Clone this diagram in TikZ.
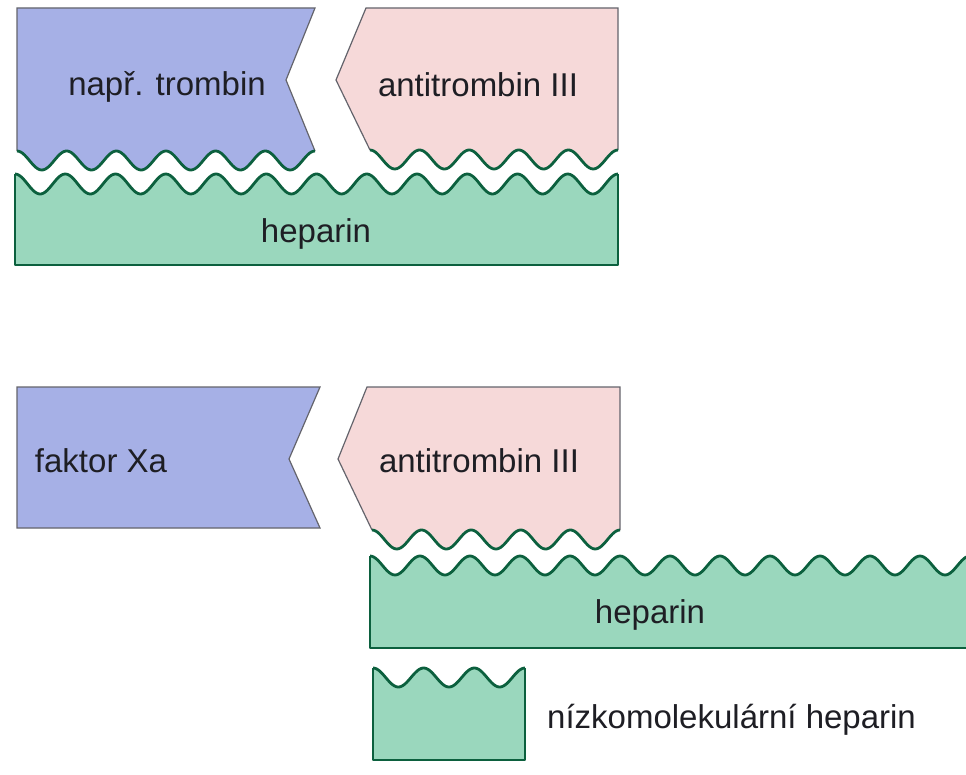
\documentclass[tikz,border=0pt]{standalone}
\usepackage{fontspec}
\setmainfont{Liberation Sans}
\definecolor{protblue}{RGB}{166,176,230}
\definecolor{protpink}{RGB}{246,217,217}
\definecolor{hepgreen}{RGB}{154,215,189}
\definecolor{wavegreen}{RGB}{12,96,62}
\definecolor{edgegray}{RGB}{100,100,108}
\definecolor{txt}{RGB}{30,30,36}
\tikzset{
  lbl/.style={font=\fontsize{33}{37}\selectfont, text=txt, inner sep=0pt, anchor=base},
  grayedge/.style={draw=edgegray, line width=1.2pt, line join=miter},
  greenedge/.style={draw=wavegreen, line width=2.8pt, line join=round},
}
\begin{document}
\begin{tikzpicture}[x=1pt, y=-1pt]
\clip (0,0) rectangle (966,775);
\fill[white] (0,0) rectangle (966,775);

% ---------- top panel ----------
% thrombin (blue)
\fill[protblue] (17,8) -- (315,8) -- (286,80) -- (315,151)
  -- plot[domain=315:17, samples=160] (\x, {160.5-9.5*cos((\x-17)*7.24827)}) -- cycle;
\draw[grayedge] (17,151) -- (17,8) -- (315,8) -- (286,80) -- (315,151);
\draw[greenedge] plot[domain=17:315, samples=160] (\x, {160.5-9.5*cos((\x-17)*7.24827)});

% antithrombin III (pink)
\fill[protpink] (366,8) -- (618,8) -- (618,150)
  -- plot[domain=618:370, samples=140] (\x, {159.5-9.5*cos((\x-370)*7.25806)})
  -- (336,80) -- cycle;
\draw[grayedge] (370,150) -- (336,80) -- (366,8) -- (618,8) -- (618,150);
\draw[greenedge] plot[domain=370:618, samples=140] (\x, {159.5-9.5*cos((\x-370)*7.25806)});

% heparin (green)
\fill[hepgreen] (15,265) -- (15,174)
  -- plot[domain=15:618, samples=300] (\x, {184-10*cos((\x-15)*7.16418)})
  -- (618,265) -- cycle;
\draw[greenedge] (15,174) -- (15,265) -- (618,265) -- (618,174);
\draw[greenedge] plot[domain=15:618, samples=300] (\x, {184-10*cos((\x-15)*7.16418)});

\node[lbl] (trombin) at (167,96) {např. trombin};
\node[lbl] (at1) at (478,97) {antitrombin III};
\node[lbl] (hep1) at (316,243) {heparin};

% ---------- bottom panel ----------
% factor Xa (blue)
\fill[protblue] (17,387) -- (320,387) -- (289,459) -- (320,528) -- (17,528) -- cycle;
\draw[grayedge] (17,387) -- (320,387) -- (289,459) -- (320,528) -- (17,528) -- cycle;

% antithrombin III (pink)
\fill[protpink] (367,387) -- (620,387) -- (620,530)
  -- plot[domain=620:372, samples=140] (\x, {539.5-9.5*cos((\x-372)*7.25806)})
  -- (338,459) -- cycle;
\draw[grayedge] (372,530) -- (338,459) -- (367,387) -- (620,387) -- (620,530);
\draw[greenedge] plot[domain=372:620, samples=140] (\x, {539.5-9.5*cos((\x-372)*7.25806)});

% heparin (green, runs off the right edge)
\fill[hepgreen] (370,648) -- (370,556)
  -- plot[domain=370:975, samples=320] (\x, {565.5-9.5*cos((\x-370)*7.2)})
  -- (975,648) -- cycle;
\draw[greenedge] (370,556) -- (370,648) -- (975,648);
\draw[greenedge] plot[domain=370:975, samples=320] (\x, {565.5-9.5*cos((\x-370)*7.2)});

% low molecular weight heparin (green)
\fill[hepgreen] (373,760) -- (373,668)
  -- plot[domain=373:525, samples=100] (\x, {677.5-9.5*cos((\x-373)*7.10522)})
  -- (525,760) -- cycle;
\draw[greenedge] (373,668) -- (373,760) -- (525,760) -- (525,668);
\draw[greenedge] plot[domain=373:525, samples=100] (\x, {677.5-9.5*cos((\x-373)*7.10522)});

\node[lbl] (xa) at (101,472) {faktor Xa};
\node[lbl] (at2) at (479,472) {antitrombin III};
\node[lbl] (hep2) at (650,623) {heparin};
\node[lbl, anchor=base west] (lmwh) at (547,728) {nízkomolekulární heparin};
\end{tikzpicture}
\end{document}
